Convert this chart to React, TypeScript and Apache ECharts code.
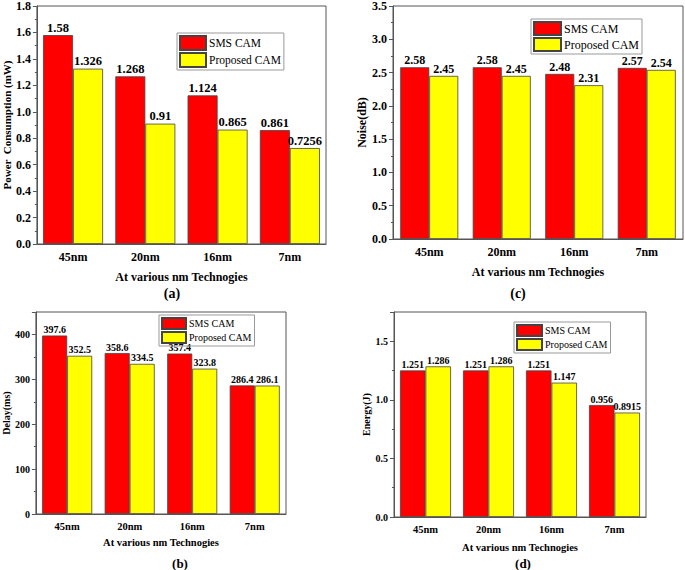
import React, { useEffect, useRef } from "react";
import * as echarts from "echarts";

const categories = ["45nm", "20nm", "16nm", "7nm"];
const seriesNames = ["SMS CAM", "Proposed CAM"];
const powerSMS = [1.58, 1.268, 1.124, 0.861];
const powerProposed = [1.326, 0.91, 0.865, 0.7256];
const noiseSMS = [2.58, 2.58, 2.48, 2.57];
const noiseProposed = [2.45, 2.45, 2.31, 2.54];
const delaySMS = [397.6, 358.6, 357.4, 286.4];
const delayProposed = [352.5, 334.5, 323.8, 286.1];
const energySMS = [1.251, 1.251, 1.251, 0.956];
const energyProposed = [1.286, 1.286, 1.147, 0.8915];

const FONT = "'Liberation Serif', 'Times New Roman', serif";
const RED = "#ff0000";
const YELLOW = "#ffff00";
const AXIS = "#555";

type Panel = {
  grid: { left: number; top: number; width: number; height: number };
  max: number;
  interval: number;
  fmt: (v: number) => string;
  showMax: boolean;
  yName: string;
  yNameGap: number;
  yNameFont: number;
  xNameGap: number;
  yTickFont: number;
  xTickFont: number;
  titleFont: number;
  labelFont: number;
  barWidth: number;
  a: number[];
  b: number[];
  legend: { left: number; top: number; iw: number; ih: number; font: number };
  tag: string;
  tagX: number;
  tagY: number;
  tagFont: number;
};

const panels: Panel[] = [
  {
    grid: { left: 34, top: 5, width: 292, height: 239 },
    max: 1.8, interval: 0.2, fmt: (v) => v.toFixed(1), showMax: true,
    yName: "Power  Consumption (mW)", yNameGap: 21, yNameFont: 11, xNameGap: 27,
    yTickFont: 12, xTickFont: 12, titleFont: 12, labelFont: 12.5, barWidth: 30,
    a: powerSMS, b: powerProposed,
    legend: { left: 177, top: 33, iw: 26, ih: 14, font: 11.5 },
    tag: "(a)", tagX: 172, tagY: 293, tagFont: 14,
  },
  {
    grid: { left: 393, top: 5, width: 290, height: 234 },
    max: 3.5, interval: 0.5, fmt: (v) => v.toFixed(1), showMax: true,
    yName: "Noise(dB)", yNameGap: 24, yNameFont: 12, xNameGap: 27,
    yTickFont: 12, xTickFont: 12, titleFont: 12, labelFont: 12, barWidth: 29,
    a: noiseSMS, b: noiseProposed,
    legend: { left: 531, top: 19, iw: 27, ih: 13, font: 12 },
    tag: "(c)", tagX: 518, tagY: 293, tagFont: 14,
  },
  {
    grid: { left: 35, top: 312, width: 251, height: 202 },
    max: 450, interval: 100, fmt: (v) => String(v), showMax: false,
    yName: "Delay(ms)", yNameGap: 23, yNameFont: 10, xNameGap: 23,
    yTickFont: 10, xTickFont: 10.5, titleFont: 10.5, labelFont: 10, barWidth: 25,
    a: delaySMS, b: delayProposed,
    legend: { left: 159, top: 315, iw: 24, ih: 11, font: 10 },
    tag: "(b)", tagX: 180, tagY: 563, tagFont: 13,
  },
  {
    grid: { left: 394, top: 312, width: 252, height: 205 },
    max: 1.75, interval: 0.5, fmt: (v) => v.toFixed(1), showMax: false,
    yName: "Energy(J)", yNameGap: 19.5, yNameFont: 10, xNameGap: 25,
    yTickFont: 10, xTickFont: 10.5, titleFont: 10.5, labelFont: 10, barWidth: 25.5,
    a: energySMS, b: energyProposed,
    legend: { left: 514, top: 322, iw: 25, ih: 11, font: 10 },
    tag: "(d)", tagX: 523, tagY: 563, tagFont: 13,
  },
];

export default function App() {
  const ref = useRef<HTMLDivElement>(null);
  useEffect(() => {
    if (!ref.current) return;
    const chart = echarts.init(ref.current, null, { renderer: "svg" });
    const grid: any[] = [];
    const xAxis: any[] = [];
    const yAxis: any[] = [];
    const series: any[] = [];
    const legend: any[] = [];
    const graphic: any[] = [];
    panels.forEach((p, i) => {
      grid.push({
        ...p.grid,
        show: true,
        borderColor: AXIS,
        borderWidth: 1,
        backgroundColor: "transparent",
      });
      xAxis.push({
        type: "category",
        gridIndex: i,
        data: categories,
        name: "At various nm Technogies",
        nameLocation: "middle",
        nameGap: p.xNameGap,
        nameTextStyle: { fontFamily: FONT, fontWeight: "bold", fontSize: p.titleFont, color: "#000" },
        axisLine: { lineStyle: { color: AXIS, width: 1 } },
        axisTick: { alignWithLabel: true, length: 4, lineStyle: { color: AXIS } },
        axisLabel: { fontFamily: FONT, fontWeight: "bold", fontSize: p.xTickFont, color: "#000", margin: 7 },
        splitLine: { show: false },
      });
      yAxis.push({
        type: "value",
        gridIndex: i,
        min: 0,
        max: p.max,
        interval: p.interval,
        name: p.yName,
        nameLocation: "middle",
        nameGap: p.yNameGap,
        nameTextStyle: { fontFamily: FONT, fontWeight: "bold", fontSize: p.yNameFont, color: "#000" },
        axisLine: { show: true, lineStyle: { color: AXIS, width: 1 } },
        axisTick: { show: true, length: 4, lineStyle: { color: AXIS } },
        minorTick: { show: true, splitNumber: 2, length: 2, lineStyle: { color: AXIS } },
        axisLabel: {
          fontFamily: FONT, fontWeight: "bold", fontSize: p.yTickFont, color: "#000", margin: 6,
          formatter: p.fmt, showMaxLabel: p.showMax,
        },
        splitLine: { show: false },
      });
      const mk = (name: string, data: number[], color: string) => ({
        type: "bar",
        name,
        xAxisIndex: i,
        yAxisIndex: i,
        data,
        barWidth: p.barWidth,
        barGap: "0%",
        itemStyle: { color, borderColor: "#444", borderWidth: 0.8 },
        label: {
          show: true,
          position: "top",
          distance: 1,
          fontFamily: FONT,
          fontWeight: "bold",
          fontSize: p.labelFont,
          color: "#000",
        },
      });
      series.push(mk(seriesNames[0], p.a, RED));
      series.push(mk(seriesNames[1], p.b, YELLOW));
      legend.push({
        data: seriesNames,
        orient: "vertical",
        left: p.legend.left,
        top: p.legend.top,
        itemWidth: p.legend.iw,
        itemHeight: p.legend.ih,
        itemGap: 1,
        padding: [2, 3, 2, 2],
        borderColor: "#999",
        borderWidth: 1,
        icon: "rect",
        selectedMode: false,
        textStyle: { fontFamily: FONT, fontSize: p.legend.font, color: "#000", padding: [0, 0, 0, -2] },
      });
      graphic.push({
        type: "text",
        x: p.tagX,
        y: p.tagY,
        style: {
          text: p.tag,
          fontFamily: FONT,
          fontWeight: "bold",
          fontSize: p.tagFont,
          fill: "#000",
          align: "center",
          verticalAlign: "middle",
        },
      });
    });
    chart.setOption({
      animation: false,
      backgroundColor: "#fff",
      grid,
      xAxis,
      yAxis,
      series,
      legend,
      graphic,
    });
    return () => chart.dispose();
  }, []);
  return (
    <div
      ref={ref}
      style={{ position: "fixed", left: 0, top: 0, width: 685, height: 570 }}
    />
  );
}
